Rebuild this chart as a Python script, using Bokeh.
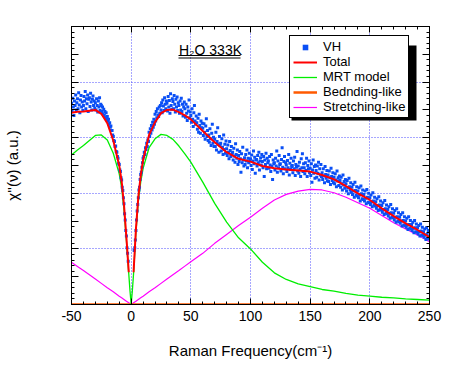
import numpy as np
from bokeh.plotting import figure
from bokeh.models import (Range1d, LinearAxis, FixedTicker, Legend, LegendItem,
                          Label, BoxAnnotation, CustomJSTickFormatter)
from bokeh.embed import file_html
from bokeh.resources import INLINE

# ---------------- data ----------------
freq = [-50, -45, -40, -35, -30, -25, -20, -15, -10, -8, -6, -4, -2, -1, 0,
        1, 2, 4, 6, 8, 10, 15, 20, 25, 30, 35, 40, 45, 50,
        60, 70, 80, 90, 100, 110, 120, 130, 140, 150, 160, 170, 180, 190,
        200, 210, 220, 230, 240, 250]

mrt_model = [2.69, 2.78, 2.86, 2.95, 3.04, 3.05, 2.96, 2.72, 2.35, 2.10, 1.70, 1.15, 0.55, 0.25, 0.0,
             0.25, 0.55, 1.30, 1.85, 2.20, 2.45, 2.82, 2.98, 3.06, 3.04, 2.97, 2.85, 2.71, 2.56,
             2.20, 1.82, 1.48, 1.20, 1.00, 0.76, 0.57, 0.45, 0.37, 0.32, 0.27, 0.24, 0.20, 0.17,
             0.15, 0.13, 0.12, 0.10, 0.09, 0.08]

stretching = [0.76, 0.685, 0.61, 0.535, 0.46, 0.38, 0.30, 0.23, 0.15, 0.12, 0.09, 0.06, 0.03, 0.015, 0.0,
              0.015, 0.03, 0.06, 0.09, 0.12, 0.15, 0.23, 0.30, 0.38, 0.46, 0.535, 0.61, 0.69, 0.77,
              0.92, 1.10, 1.26, 1.42, 1.57, 1.73, 1.88, 1.98, 2.04, 2.07, 2.06, 2.01, 1.93, 1.83,
              1.73, 1.60, 1.47, 1.36, 1.25, 1.13]

bending = [0.0] * len(freq)

# total fit = sum of the components, drawn over the measured range only
total = [(m + s + b) if abs(f) >= 2 else float("nan")
         for f, m, s, b in zip(freq, mrt_model, stretching, bending)]

# VH measured spectrum: step 0.5 cm-1, from -50 to -2.5 and from 2.5 to 250
vh_step = 0.5
vh_neg_start = -50.0
vh_pos_start = 2.5
vh_y_neg = [
    3.62, 3.48, 3.71, 3.55, 3.40, 3.66, 3.58, 3.77, 3.50, 3.63,
    3.70, 3.52, 3.81, 3.59, 3.45, 3.68, 3.76, 3.55, 3.64, 3.49,
    3.58, 3.74, 3.66, 3.83, 3.52, 3.70, 3.61, 3.77, 3.47, 3.69,
    3.72, 3.56, 3.80, 3.64, 3.50, 3.69, 3.75, 3.58, 3.66, 3.53,
    3.63, 3.50, 3.70, 3.58, 3.46, 3.66, 3.55, 3.72, 3.49, 3.60,
    3.58, 3.47, 3.55, 3.42, 3.51, 3.40, 3.47, 3.36, 3.45, 3.33,
    3.38, 3.30, 3.33, 3.24, 3.27, 3.19, 3.21, 3.13, 3.13, 3.05,
    3.02, 2.95, 2.93, 2.84, 2.85, 2.75, 2.74, 2.66, 2.63, 2.54,
    2.52, 2.42, 2.39, 2.28, 2.24, 2.11, 2.05, 1.92, 1.81, 1.63,
    1.52, 1.33, 1.23, 1.02, 0.92, 0.78,
]
vh_y_pos = [
    0.97, 1.02, 1.16, 1.33, 1.52,
    1.68, 1.80, 1.92, 2.06, 2.11, 2.25, 2.34, 2.38, 2.47, 2.55,
    2.63, 2.66, 2.74, 2.70, 2.82, 2.79, 2.90, 2.84, 2.96, 2.93,
    3.10, 3.02, 3.16, 3.08, 3.22, 3.14, 3.28, 3.19, 3.33, 3.24,
    3.42, 3.30, 3.47, 3.36, 3.52, 3.41, 3.38, 3.55, 3.44, 3.58,
    3.50, 3.63, 3.45, 3.68, 3.57, 3.49, 3.72, 3.60, 3.52, 3.66,
    3.62, 3.48, 3.74, 3.55, 3.67, 3.44, 3.79, 3.58, 3.51, 3.70,
    3.65, 3.52, 3.76, 3.60, 3.46, 3.69, 3.55, 3.73, 3.49, 3.63,
    3.58, 3.44, 3.66, 3.50, 3.71, 3.47, 3.60, 3.39, 3.55, 3.64,
    3.52, 3.37, 3.60, 3.44, 3.31, 3.55, 3.48, 3.68, 3.36, 3.46,
    3.40, 3.28, 3.52, 3.33, 3.20, 3.45, 3.58, 3.30, 3.24, 3.39,
    3.27, 3.15, 3.35, 3.10, 3.42, 3.22, 3.08, 3.30, 3.18, 3.26,
    3.17, 3.04, 3.25, 3.10, 2.97, 3.21, 3.34, 3.02, 3.13, 2.95,
    3.05, 2.92, 3.16, 2.98, 2.86, 3.08, 3.24, 2.90, 3.01, 2.84,
    2.97, 2.84, 3.10, 2.78, 2.93, 3.18, 2.88, 2.74, 3.02, 2.86,
    2.90, 2.76, 2.98, 2.83, 2.70, 3.05, 2.79, 2.88, 2.72, 2.94,
    2.80, 2.68, 2.87, 2.74, 2.62, 2.93, 2.77, 2.66, 2.84, 2.71,
    2.74, 2.60, 2.81, 2.67, 2.56, 2.89, 2.70, 2.63, 2.78, 2.52,
    2.68, 2.57, 2.75, 2.62, 2.38, 2.71, 2.55, 2.83, 2.60, 2.49,
    2.64, 2.52, 2.70, 2.58, 2.78, 2.46, 2.63, 2.55, 2.72, 2.60,
    2.62, 2.50, 2.69, 2.43, 2.58, 2.76, 2.53, 2.65, 2.36, 2.60,
    2.61, 2.49, 2.68, 2.55, 2.74, 2.42, 2.58, 2.64, 2.51, 2.70,
    2.57, 2.46, 2.66, 2.30, 2.60, 2.52, 2.72, 2.44, 2.63, 2.55,
    2.58, 2.45, 2.66, 2.51, 2.39, 2.70, 2.48, 2.25, 2.60, 2.53,
    2.55, 2.42, 2.63, 2.49, 2.76, 2.38, 2.58, 2.46, 2.68, 2.52,
    2.53, 2.40, 2.61, 2.82, 2.47, 2.35, 2.57, 2.66, 2.44, 2.55,
    2.51, 2.39, 2.59, 2.46, 2.70, 2.33, 2.54, 2.43, 2.63, 2.48,
    2.50, 2.37, 2.58, 2.44, 2.65, 2.32, 2.52, 2.47, 2.75, 2.40,
    2.49, 2.36, 2.56, 2.43, 2.30, 2.62, 2.46, 2.71, 2.39, 2.53,
    2.46, 2.35, 2.55, 2.41, 2.63, 2.30, 2.50, 2.44, 2.58, 2.37,
    2.45, 2.32, 2.53, 2.20, 2.42, 2.60, 2.36, 2.48, 2.27, 2.51,
    2.41, 2.29, 2.49, 2.36, 2.56, 2.24, 2.44, 2.33, 2.52, 2.30,
    2.37, 2.25, 2.44, 2.31, 2.19, 2.48, 2.34, 2.27, 2.41, 2.22,
    2.33, 2.21, 2.40, 2.28, 2.16, 2.45, 2.30, 2.23, 2.37, 2.19,
    2.29, 2.17, 2.35, 2.24, 2.12, 2.40, 2.22, 2.28, 2.14, 2.31,
    2.23, 2.11, 2.29, 2.17, 2.06, 2.33, 2.15, 2.21, 2.09, 2.25,
    2.17, 2.04, 2.23, 2.10, 1.99, 2.27, 2.12, 2.06, 2.19, 2.02,
    2.11, 1.98, 2.16, 2.04, 1.93, 2.20, 2.05, 1.97, 2.12, 1.95,
    2.04, 1.92, 2.10, 1.97, 1.86, 2.13, 1.99, 1.90, 2.06, 1.89,
    1.98, 1.86, 2.04, 1.91, 1.81, 2.07, 1.93, 1.84, 2.00, 1.83,
    1.92, 1.80, 1.97, 1.85, 1.76, 2.01, 1.86, 1.79, 1.93, 1.77,
    1.85, 1.73, 1.90, 1.78, 1.69, 1.94, 1.79, 1.71, 1.86, 1.70,
    1.78, 1.66, 1.83, 1.71, 1.62, 1.87, 1.72, 1.64, 1.79, 1.63,
    1.71, 1.59, 1.76, 1.64, 1.55, 1.80, 1.65, 1.57, 1.72, 1.56,
    1.64, 1.52, 1.69, 1.57, 1.48, 1.72, 1.58, 1.50, 1.65, 1.49,
    1.57, 1.46, 1.62, 1.50, 1.41, 1.65, 1.51, 1.43, 1.58, 1.42,
    1.50, 1.39, 1.55, 1.43, 1.35, 1.58, 1.44, 1.37, 1.51, 1.36,
    1.44, 1.33, 1.48, 1.37, 1.29, 1.51, 1.38, 1.31, 1.45, 1.30,
    1.38, 1.27, 1.42, 1.31, 1.23, 1.45, 1.32, 1.25, 1.39, 1.24,
    1.31, 1.21, 1.36, 1.25, 1.17, 1.38, 1.26, 1.19, 1.33, 1.18,
    1.22,
]
vh_x = ([vh_neg_start + i * vh_step for i in range(len(vh_y_neg))] +
        [vh_pos_start + i * vh_step for i in range(len(vh_y_pos))])
vh_y = vh_y_neg + vh_y_pos

x_major = [-50, 0, 50, 100, 150, 200, 250]
x_minor = list(range(-50, 251, 10))
y_major = [i * 0.5 for i in range(11)]
y_minor = [i * 0.1 for i in range(51)]
y_grid = [0, 1, 2, 3, 4, 5]

legend_labels = ["VH", "Total", "MRT model", "Bednding-like", "Stretching-like"]
title_text = "H\u2082O 333K"
x_title = "Raman Frequency(cm\u207b\u00b9)"
y_title = "\u03c7''(\u03bd) (a.u.)"

# ---------------- styles ----------------
FONT = "Liberation Sans"
C_VH = "#0a4ff5"
C_TOT = "#ff0000"
C_MRT = "#00ee00"
C_BEND = "#ff5a00"
C_STR = "#ff00ff"
C_GRID = "#4f4fff"

p = figure(width=446, height=361, x_range=Range1d(-50, 250), y_range=Range1d(0, 5),
           output_backend="svg", toolbar_location=None,
           min_border_left=69, min_border_right=17, min_border_top=26, min_border_bottom=48)
p.outline_line_color = "black"
p.background_fill_color = "white"
p.border_fill_color = "white"

p.add_layout(LinearAxis(), "above")
p.add_layout(LinearAxis(), "right")

blank = CustomJSTickFormatter(code="return ''")
for ax in p.xaxis:
    ax.ticker = FixedTicker(ticks=x_major, minor_ticks=x_minor)
    ax.major_tick_in = 6
    ax.major_tick_out = 0
    ax.minor_tick_in = 3
    ax.minor_tick_out = 0
for ax in p.yaxis:
    ax.ticker = FixedTicker(ticks=y_major, minor_ticks=y_minor)
    ax.major_tick_in = 7
    ax.major_tick_out = 0
    ax.minor_tick_in = 3
    ax.minor_tick_out = 0
    ax.formatter = blank
    ax.major_label_standoff = 0
for ax in p.axis:
    ax.axis_line_color = "black"
    ax.major_tick_line_color = "black"
    ax.minor_tick_line_color = "black"

bottom_ax = p.below[0]
bottom_ax.major_label_overrides = {v: str(v) for v in x_major}
bottom_ax.major_label_text_font = FONT
bottom_ax.major_label_text_font_size = "14px"
bottom_ax.major_label_text_color = "black"
bottom_ax.major_label_standoff = 6
bottom_ax.axis_label = x_title
bottom_ax.axis_label_text_font = FONT
bottom_ax.axis_label_text_font_size = "15px"
bottom_ax.axis_label_text_font_style = "normal"
bottom_ax.axis_label_text_color = "black"
bottom_ax.axis_label_standoff = 18

left_ax = p.left[0]
left_ax.axis_label = y_title
left_ax.axis_label_text_font = FONT
left_ax.axis_label_text_font_size = "15px"
left_ax.axis_label_text_font_style = "normal"
left_ax.axis_label_text_color = "black"
left_ax.axis_label_standoff = 51

top_ax = p.above[0]
top_ax.formatter = blank
top_ax.major_label_standoff = 0

p.xgrid.ticker = FixedTicker(ticks=x_major)
p.ygrid.ticker = FixedTicker(ticks=y_grid)
for g in (p.xgrid, p.ygrid):
    g.grid_line_color = C_GRID
    g.grid_line_dash = "1 2"
    g.grid_line_width = 1

r_str = p.line(freq, stretching, line_color=C_STR, line_width=1.2)
r_bend = p.line(freq, bending, line_color=C_BEND, line_width=2.5)
r_mrt = p.line(freq, mrt_model, line_color=C_MRT, line_width=1.3)
r_vh = p.scatter(vh_x, vh_y, marker="square", size=3, fill_color=C_VH, line_color=None)
r_tot = p.line(freq, total, line_color=C_TOT, line_width=2)

# legend with drop shadow
shadow = BoxAnnotation(left=220, right=345, top=259, bottom=184,
                       left_units="screen", right_units="screen",
                       top_units="screen", bottom_units="screen",
                       fill_color="black", fill_alpha=1, line_color=None)
p.add_layout(shadow)

legend = Legend(items=[LegendItem(label=legend_labels[0], renderers=[r_vh]),
                       LegendItem(label=legend_labels[1], renderers=[r_tot]),
                       LegendItem(label=legend_labels[2], renderers=[r_mrt]),
                       LegendItem(label=legend_labels[3], renderers=[r_bend]),
                       LegendItem(label=legend_labels[4], renderers=[r_str])],
                location=(218, 186), padding=3, spacing=0, margin=0,
                glyph_width=24, glyph_height=14, label_height=14, label_standoff=6,
                label_text_font=FONT, label_text_font_size="13px", label_text_color="black",
                border_line_color="black", border_line_width=1, border_line_alpha=1,
                background_fill_color="white", background_fill_alpha=1)
p.add_layout(legend)

# annotation text with double underline
p.add_layout(Label(x=107.5, y=254.5, x_units="screen", y_units="screen", text=title_text,
                   text_font=FONT, text_font_size="14px", text_align="left",
                   text_baseline="alphabetic", text_color="black"))
for top_y in (249.5, 247):
    p.add_layout(BoxAnnotation(left=107, right=169, top=top_y, bottom=top_y - 1,
                               left_units="screen", right_units="screen",
                               top_units="screen", bottom_units="screen",
                               fill_color="black", fill_alpha=1, line_color=None))

open("out.html", "w").write(file_html(p, INLINE))
